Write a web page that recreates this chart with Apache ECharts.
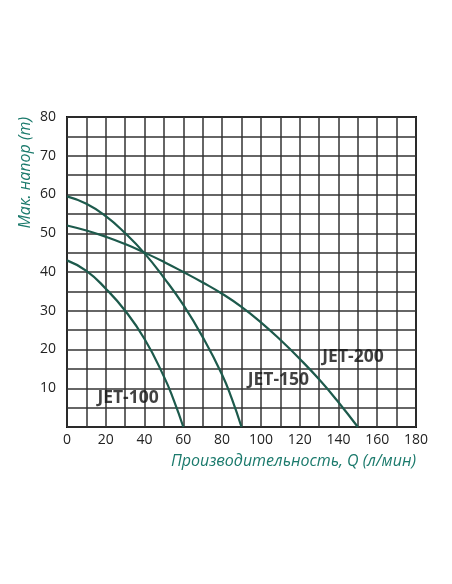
<!DOCTYPE html>
<html>
<head>
<meta charset="utf-8">
<script src="https://cdn.jsdelivr.net/npm/echarts@6/dist/echarts.min.js"></script>
<style>
html, body {margin: 0; padding: 0; background: #fff;}
#chart {width: 452px; height: 584px;}
</style>
</head>
<body>
<div id="chart"></div>
<script>
// pump curves: flow Q (l/min) vs head (m)
var jet100 = [[0, 43], [10, 40.3], [20, 35.7], [30, 30], [40, 22.7], [50, 13], [55, 7], [60, 0]];
var jet150 = [[0, 59.5], [10, 57.6], [20, 54.4], [30, 50], [40, 44.8], [50, 38.5], [60, 31.5], [70, 23.2], [80, 13.5], [85, 7.3], [90, 0]];
var jet200 = [[0, 52], [10, 50.7], [20, 49.1], [30, 47.2], [40, 45], [50, 42.6], [60, 40], [70, 37.3], [80, 34.4], [90, 31], [100, 27], [110, 22.5], [120, 17.6], [130, 12.3], [140, 6.4], [150, 0]];
var curve_names = ['JET-100', 'JET-150', 'JET-200'];
var label_pos = [[31.5, 7.5], [109, 12], [147.5, 18]];
var x_ticks = [0, 20, 40, 60, 80, 100, 120, 140, 160, 180];
var y_ticks = [10, 20, 30, 40, 50, 60, 70, 80];

var line_color = '#1d5a4c';
var name_color = '#1b7a6c';
var font = 'Open Sans';

var chart = echarts.init(document.getElementById('chart'));
var curve = function (name, data) {
    return {
        name: name, type: 'line', data: data, smooth: 0.5,
        showSymbol: false, lineStyle: {color: line_color, width: 2.2}, z: 5
    };
};
chart.setOption({
    animation: false,
    textStyle: {fontFamily: font},
    grid: {left: 67, top: 117, right: 36, bottom: 157, containLabel: false,
           show: true, borderColor: '#111', borderWidth: 2},
    xAxis: {
        type: 'value', min: 0, max: 180, interval: 10,
        name: 'Производительность, Q (л/мин)', nameLocation: 'end',
        nameGap: 0,
        nameTextStyle: {color: name_color, fontStyle: 'italic', fontSize: 16,
                        align: 'right', verticalAlign: 'top', padding: [26, 0, 0, 0]},
        axisLine: {show: false}, axisTick: {show: false},
        axisLabel: {color: '#222', fontSize: 14, margin: 6,
                    formatter: function (v) { return x_ticks.indexOf(v) >= 0 ? String(v) : ''; }},
        splitLine: {show: true, lineStyle: {color: '#333', width: 1.5}}
    },
    yAxis: {
        type: 'value', min: 0, max: 80, interval: 5,
        name: 'Мак. напор (m)', nameLocation: 'end', nameRotate: 90, nameGap: 0,
        nameTextStyle: {color: name_color, fontStyle: 'italic', fontSize: 16,
                        align: 'right', verticalAlign: 'bottom', padding: [0, 0, 34, 0]},
        axisLine: {show: false}, axisTick: {show: false},
        axisLabel: {color: '#222', fontSize: 14, margin: 11,
                    formatter: function (v) { return y_ticks.indexOf(v) >= 0 ? String(v) : ''; }},
        splitLine: {show: true, lineStyle: {color: '#333', width: 1.5}}
    },
    series: [
        curve(curve_names[0], jet100),
        curve(curve_names[1], jet150),
        curve(curve_names[2], jet200),
        {
            type: 'scatter', symbolSize: 0, z: 6,
            data: label_pos.map(function (p, i) { return {value: p, name: curve_names[i]}; }),
            label: {show: true, position: 'inside', formatter: '{b}',
                    color: '#111', fontSize: 17.5, fontWeight: 'bold', fontFamily: font}
        }
    ]
});
</script>
</body>
</html>
